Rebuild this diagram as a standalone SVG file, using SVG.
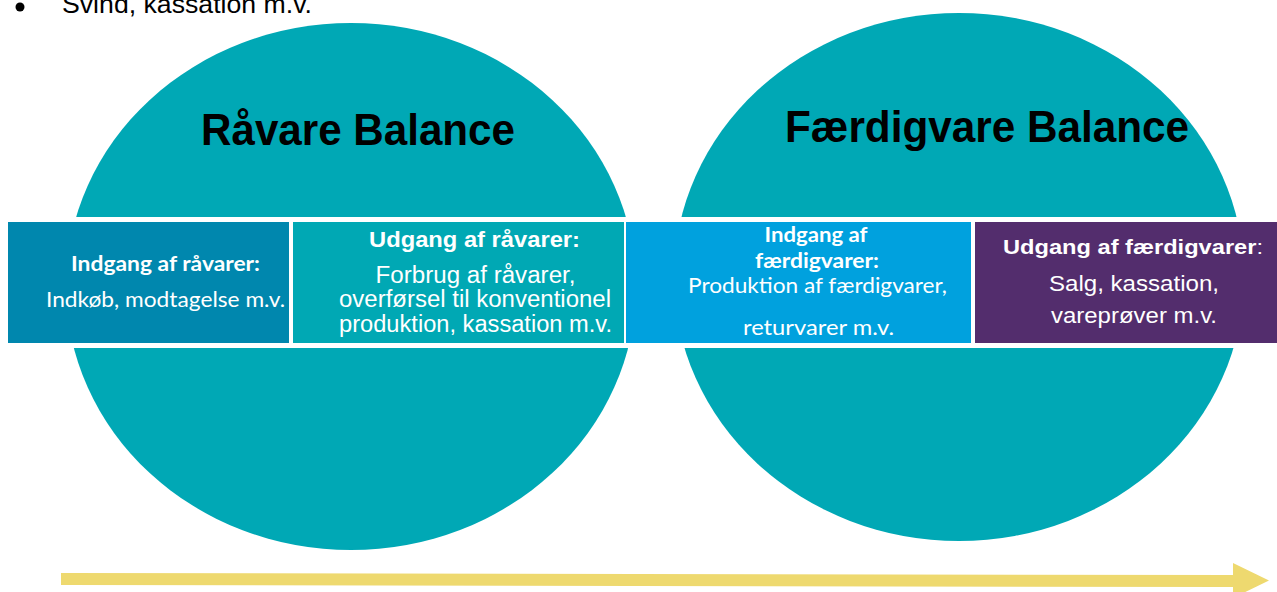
<svg xmlns="http://www.w3.org/2000/svg" width="1277" height="592" viewBox="0 0 1277 592">
<style>
.title{font-family:"Liberation Sans",Arial,sans-serif;font-weight:bold;font-size:44px;fill:#000;text-anchor:middle}
.ar{font-family:"Liberation Sans",Arial,sans-serif;fill:#fff;text-anchor:middle}
.cb{font-family:Lato,"Open Sans",sans-serif;fill:#fff;text-anchor:middle}
.b{font-weight:bold}
</style>
<rect width="1277" height="592" fill="#fff"/>
<g id="header">
<circle cx="20" cy="7" r="4.5" fill="#000"/>
<text x="62" y="13" font-family="Liberation Sans,Arial,sans-serif" font-size="26" fill="#000" textLength="250" lengthAdjust="spacingAndGlyphs">Svind, kassation m.v.</text>
</g>
<g id="ravare-balance">
<ellipse cx="351" cy="286.5" rx="285" ry="263.5" fill="#00A8B5"/>
</g>
<g id="faerdigvare-balance">
<ellipse cx="959" cy="277" rx="285" ry="264" fill="#00A8B5"/>
</g>
<rect x="0" y="217" width="1277" height="131" fill="#fff"/>
<text class="title" x="358" y="145" textLength="314" lengthAdjust="spacingAndGlyphs">Råvare Balance</text>
<text class="title" x="987" y="142" textLength="404" lengthAdjust="spacingAndGlyphs">Færdigvare Balance</text>
<g id="indgang-ravarer">
<rect x="8" y="222" width="281" height="121" fill="#0087AE"/>
<text class="cb b" x="165.5" y="271" font-size="21" textLength="189" lengthAdjust="spacingAndGlyphs">Indgang af råvarer:</text>
<text class="cb" x="165.5" y="306.5" font-size="22" textLength="239" lengthAdjust="spacingAndGlyphs">Indkøb, modtagelse m.v.</text>
</g>
<g id="udgang-ravarer">
<rect x="293" y="222" width="331" height="121" fill="#00A8B4"/>
<text class="ar b" x="474.5" y="247" font-size="22" textLength="211" lengthAdjust="spacingAndGlyphs">Udgang af råvarer:</text>
<text class="ar" x="475.5" y="283" font-size="23" textLength="200" lengthAdjust="spacingAndGlyphs">Forbrug af råvarer,</text>
<text class="ar" x="475" y="307" font-size="23" textLength="272" lengthAdjust="spacingAndGlyphs">overførsel til konventionel</text>
<text class="ar" x="475.5" y="332" font-size="23" textLength="273" lengthAdjust="spacingAndGlyphs">produktion, kassation m.v.</text>
</g>
<g id="indgang-faerdigvarer">
<rect x="626" y="222" width="345" height="121" fill="#00A1DE"/>
<text class="cb b" x="816" y="242" font-size="20" textLength="103" lengthAdjust="spacingAndGlyphs">Indgang af</text>
<text class="cb b" x="817" y="267.5" font-size="20" textLength="124" lengthAdjust="spacingAndGlyphs">færdigvarer:</text>
<text class="cb" x="817.5" y="293" font-size="21" textLength="259" lengthAdjust="spacingAndGlyphs">Produktion af færdigvarer,</text>
<text class="cb" x="818.5" y="334.5" font-size="21" textLength="151" lengthAdjust="spacingAndGlyphs">returvarer m.v.</text>
</g>
<g id="udgang-faerdigvarer">
<rect x="975" y="222" width="302" height="121" fill="#532D6D"/>
<text class="ar" x="1133" y="254" font-size="21" textLength="260" lengthAdjust="spacingAndGlyphs"><tspan font-weight="bold">Udgang af færdigvarer</tspan>:</text>
<text class="ar" x="1134" y="291" font-size="22" textLength="170" lengthAdjust="spacingAndGlyphs">Salg, kassation,</text>
<text class="ar" x="1134" y="323" font-size="22" textLength="166" lengthAdjust="spacingAndGlyphs">vareprøver m.v.</text>
</g>
<g id="connectors">
<polygon points="61,573 1233,575 1233,563 1269,580.5 1233,598 1233,587 61,585" fill="#EED96F"/>
</g>
</svg>
